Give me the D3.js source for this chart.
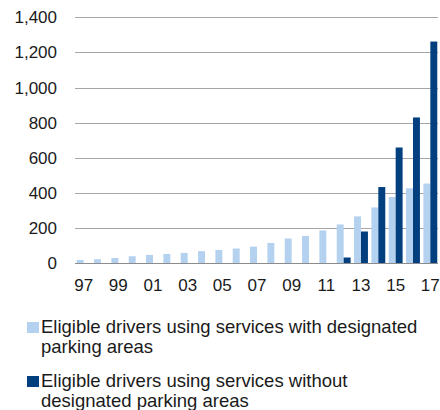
<!DOCTYPE html>
<html>
<head>
<meta charset="utf-8">
<script src="https://cdn.jsdelivr.net/npm/d3@7"></script>
<style>
  body { margin: 0; background: #fff; }
  svg text { font-family: "Liberation Sans", Arial, sans-serif; fill: #1a1a1a; }
</style>
</head>
<body>
<div id="chart"></div>
<script>
// years shown on the x axis (1997 - 2017)
const years = ["1997","1998","1999","2000","2001","2002","2003","2004","2005","2006","2007",
               "2008","2009","2010","2011","2012","2013","2014","2015","2016","2017"];
// eligible drivers, services with designated parking areas
const withAreas = [19,23,30,40,48,53,59,69,76,84,95,116,141,156,187,221,267,318,377,427,454];
// eligible drivers, services without designated parking areas
const withoutAreas = [0,0,0,0,0,0,0,0,0,0,0,0,0,0,0,33,181,434,659,830,1262];
const yTicks = [0,200,400,600,800,1000,1200,1400];
const legendLabels = [
  ["Eligible drivers using services with designated", "parking areas"],
  ["Eligible drivers using services without", "designated parking areas"]
];

const colors = ["#b4d1f0", "#023f7f"];

const W = 440, H = 410;
const svg = d3.select("#chart").append("svg")
  .attr("width", W).attr("height", H);

const x = d3.scaleBand().domain(years).range([75, 439]).padding(0);
const y = d3.scaleLinear().domain([0, 1400]).range([263.3, 17.3]);

// gridlines
svg.append("g")
  .selectAll("line")
  .data(yTicks.filter(d => d > 0))
  .enter().append("line")
  .attr("x1", 75).attr("x2", 438)
  .attr("y1", d => Math.round(y(d)) + 0.5).attr("y2", d => Math.round(y(d)) + 0.5)
  .attr("stroke", "#a6a6a6").attr("stroke-width", 1);

// y labels
svg.append("g")
  .selectAll("text")
  .data(yTicks)
  .enter().append("text")
  .attr("x", 57)
  .attr("y", d => y(d))
  .attr("dy", "0.35em")
  .attr("text-anchor", "end")
  .style("font-size", "17px")
  .text(d => d3.format(",")(d));

// bars
const bw = x.bandwidth() * 0.4;
const series = [withAreas, withoutAreas];
series.forEach((vals, s) => {
  svg.append("g")
    .selectAll("rect")
    .data(vals.map((v, i) => ({year: years[i], v})).filter(d => d.v > 0))
    .enter().append("rect")
    .attr("x", d => x(d.year) + x.bandwidth() / 2 - bw + s * bw)
    .attr("y", d => y(d.v))
    .attr("width", bw)
    .attr("height", d => y(0) - y(d.v))
    .attr("fill", colors[s]);
});

// x axis line
svg.append("line")
  .attr("x1", 75).attr("x2", 438)
  .attr("y1", 263.5).attr("y2", 263.5)
  .attr("stroke", "#8c8c8c").attr("stroke-width", 1);

// x labels (every other year)
svg.append("g")
  .selectAll("text")
  .data(years.filter((d, i) => i % 2 === 0))
  .enter().append("text")
  .attr("x", d => x(d) + x.bandwidth() / 2)
  .attr("y", 291)
  .attr("text-anchor", "middle")
  .style("font-size", "17px")
  .text(d => d.slice(2));

// legend
const legend = svg.selectAll(".legend")
  .data(legendLabels)
  .enter().append("g")
  .attr("class", "legend")
  .attr("transform", (d, i) => "translate(0," + (i * 54) + ")");
legend.append("rect")
  .attr("x", 27).attr("y", 322)
  .attr("width", 12).attr("height", 11)
  .attr("fill", (d, i) => colors[i]);
legend.append("text")
  .attr("x", 41).attr("y", 333)
  .style("font-size", "18.5px")
  .text(d => d[0]);
legend.append("text")
  .attr("x", 41).attr("y", 353)
  .style("font-size", "18.5px")
  .text(d => d[1]);
</script>
</body>
</html>
